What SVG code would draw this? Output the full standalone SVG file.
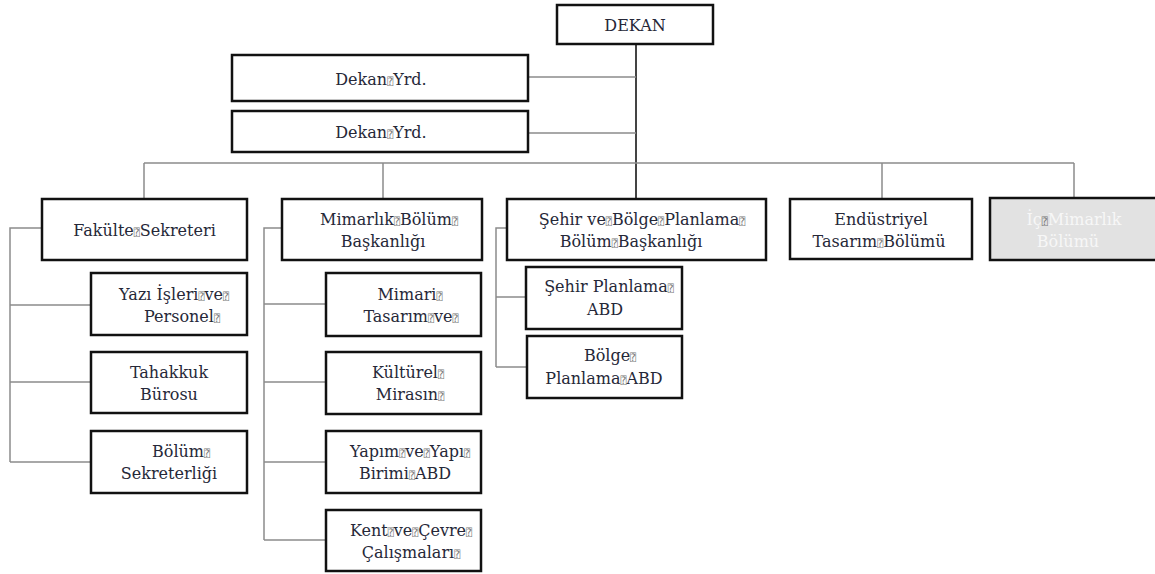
<svg xmlns="http://www.w3.org/2000/svg" width="1155" height="574" viewBox="0 0 1155 574">
<style>
.box{fill:#fff;stroke:#111;stroke-width:2.5}
.grey{fill:#e2e2e2}
.t{font-family:"DejaVu Serif","Liberation Serif",serif;font-size:16px;fill:#262838;text-anchor:middle}
.w{fill:#f7f7f7}
.q{font-family:"DejaVu Sans Mono","DejaVu Sans",monospace;font-size:10px;fill:#777}
.c{stroke:#8c8c8c;stroke-width:1.5;fill:none}
.m{stroke:#444;stroke-width:2;fill:none}
</style>
<rect width="1155" height="574" fill="#fff"/>
<g id="connectors">
<path class="m" d="M636 44V199"/>
<path class="c" d="M528 77H636M528 133H636"/>
<path class="c" d="M144 163H1074M144 163V199M383 163V199M882 163V199M1074 163V198"/>
<path class="c" d="M42 228H10V462M10 305H91M10 382H91M10 462H91"/>
<path class="c" d="M282 228H264V540M264 304H326M264 382H326M264 462H326M264 540H326"/>
<path class="c" d="M507 228H496V367M496 297H526M496 367H526"/>
</g>
<g id="dekan"><rect class="box" x="557" y="5" width="156" height="39"/><text class="t" x="635" y="31">DEKAN</text></g>
<g id="dekan-yrd-1"><rect class="box" x="232" y="55" width="296" height="46"/><text class="t" x="381" y="85">Dekan<tspan class="q">⍰</tspan>Yrd.</text></g>
<g id="dekan-yrd-2"><rect class="box" x="232" y="111" width="296" height="41"/><text class="t" x="381" y="138">Dekan<tspan class="q">⍰</tspan>Yrd.</text></g>
<g id="fakulte-sekreteri"><rect class="box" x="42" y="199" width="205" height="61"/><text class="t" x="144.5" y="236">Fakülte<tspan class="q">⍰</tspan>Sekreteri</text></g>
<g id="yazi-isleri"><rect class="box" x="91" y="273" width="156" height="62"/><text class="t" x="174" y="300">Yazı İşleri<tspan class="q">⍰</tspan>ve<tspan class="q">⍰</tspan></text><text class="t" x="182" y="322">Personel<tspan class="q">⍰</tspan></text></g>
<g id="tahakkuk"><rect class="box" x="91" y="352" width="156" height="61"/><text class="t" x="169" y="378">Tahakkuk</text><text class="t" x="169" y="400">Bürosu</text></g>
<g id="bolum-sekreterligi"><rect class="box" x="91" y="431" width="156" height="62"/><text class="t" x="181" y="457">Bölüm<tspan class="q">⍰</tspan></text><text class="t" x="169" y="479">Sekreterliği</text></g>
<g id="mimarlik"><rect class="box" x="282" y="199" width="200" height="61"/><text class="t" x="389" y="225">Mimarlık<tspan class="q">⍰</tspan>Bölüm<tspan class="q">⍰</tspan></text><text class="t" x="383" y="247">Başkanlığı</text></g>
<g id="mimari-tasarim"><rect class="box" x="326" y="273" width="155" height="63"/><text class="t" x="410" y="300">Mimari<tspan class="q">⍰</tspan></text><text class="t" x="411" y="322">Tasarım<tspan class="q">⍰</tspan>ve<tspan class="q">⍰</tspan></text></g>
<g id="kulturel-miras"><rect class="box" x="326" y="352" width="155" height="62"/><text class="t" x="408" y="378">Kültürel<tspan class="q">⍰</tspan></text><text class="t" x="410" y="400">Mirasın<tspan class="q">⍰</tspan></text></g>
<g id="yapim-yapi"><rect class="box" x="326" y="431" width="155" height="62"/><text class="t" x="410" y="457">Yapım<tspan class="q">⍰</tspan>ve<tspan class="q">⍰</tspan>Yapı<tspan class="q">⍰</tspan></text><text class="t" x="405" y="479">Birimi<tspan class="q">⍰</tspan>ABD</text></g>
<g id="kent-cevre"><rect class="box" x="326" y="510" width="155" height="61"/><text class="t" x="411" y="536">Kent<tspan class="q">⍰</tspan>ve<tspan class="q">⍰</tspan>Çevre<tspan class="q">⍰</tspan></text><text class="t" x="411" y="558">Çalışmaları<tspan class="q">⍰</tspan></text></g>
<g id="sehir-bolge"><rect class="box" x="507" y="199" width="259" height="61"/><text class="t" x="642" y="225">Şehir ve<tspan class="q">⍰</tspan>Bölge<tspan class="q">⍰</tspan>Planlama<tspan class="q">⍰</tspan></text><text class="t" x="631" y="247">Bölüm<tspan class="q">⍰</tspan>Başkanlığı</text></g>
<g id="sehir-planlama"><rect class="box" x="526" y="267" width="156" height="62"/><text class="t" x="609" y="292">Şehir Planlama<tspan class="q">⍰</tspan></text><text class="t" x="605" y="315">ABD</text></g>
<g id="bolge-planlama"><rect class="box" x="527" y="336" width="155" height="62"/><text class="t" x="610" y="361">Bölge<tspan class="q">⍰</tspan></text><text class="t" x="604" y="384">Planlama<tspan class="q">⍰</tspan>ABD</text></g>
<g id="endustriyel"><rect class="box" x="790" y="199" width="182" height="60"/><text class="t" x="881" y="225">Endüstriyel</text><text class="t" x="879" y="247">Tasarım<tspan class="q">⍰</tspan>Bölümü</text></g>
<g id="ic-mimarlik"><rect class="box grey" x="990" y="198" width="175" height="62"/><text class="t w" x="1074" y="225">İç<tspan class="q w">⍰</tspan>Mimarlık</text><text class="t w" x="1068" y="247">Bölümü</text></g>
</svg>
